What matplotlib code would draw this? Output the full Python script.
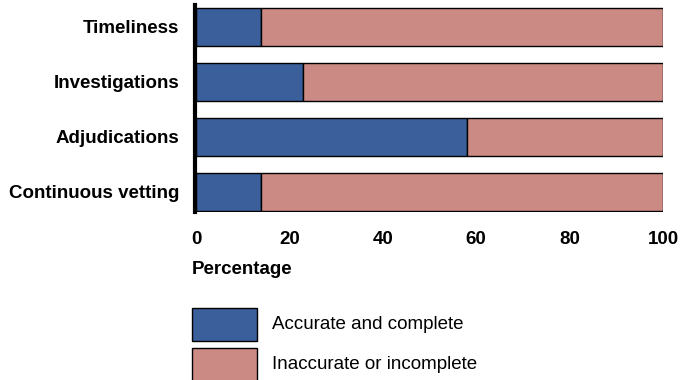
import matplotlib.pyplot as plt
from matplotlib.patches import Rectangle

plt.rcParams['font.family'] = ['Liberation Sans', 'DejaVu Sans']

categories = ["Timeliness", "Investigations", "Adjudications", "Continuous vetting"]
accurate = [14, 23, 58, 14]
inaccurate = [100 - a for a in accurate]
ticks = [0, 20, 40, 60, 80, 100]
series = ["Accurate and complete", "Inaccurate or incomplete"]

blue = "#3a5f9b"
pink = "#cc8a85"

fig = plt.figure(figsize=(6.83, 3.80), dpi=100)
ax = fig.add_axes([196 / 683, 1 - 212 / 380, 467 / 683, 207 / 380])

# spine first: moving it resets the tick labels
for s in ["top", "right", "bottom"]:
    ax.spines[s].set_visible(False)
ax.spines["left"].set_linewidth(3)
ax.spines["left"].set_position(("outward", 1))

pos = range(len(categories))
ax.barh(pos, accurate, height=0.69, color=blue, edgecolor="black", linewidth=1)
ax.barh(pos, inaccurate, left=accurate, height=0.69, color=pink, edgecolor="black", linewidth=1)

ax.set_xlim(0, 100)
ax.set_ylim(3.37, -0.40)
ax.set_yticks(list(pos))
ax.set_yticklabels(categories, fontsize=13.5, fontweight="bold")
ax.set_xticks(ticks)
ax.set_xticklabels([str(t) for t in ticks], fontsize=13.5, fontweight="bold")
ax.tick_params(axis="y", length=0, pad=11)
ax.tick_params(axis="x", length=0, pad=14)

fig.text(192 / 683, 1 - 270 / 380, "Percentage", fontsize=13.5, fontweight="bold",
         ha="left", va="center")

# legend boxes drawn by hand, larger than the usual legend handles
for i, (name, col) in enumerate(zip(series, [blue, pink])):
    top = 308 + 40 * i
    fig.add_artist(Rectangle((192 / 683, 1 - (top + 33) / 380), 65 / 683, 33 / 380,
                             transform=fig.transFigure, facecolor=col,
                             edgecolor="black", linewidth=1))
    fig.text(272 / 683, 1 - (top + 16.5) / 380, name, fontsize=13.5,
             ha="left", va="center")

fig.savefig("out.png", dpi=100)
